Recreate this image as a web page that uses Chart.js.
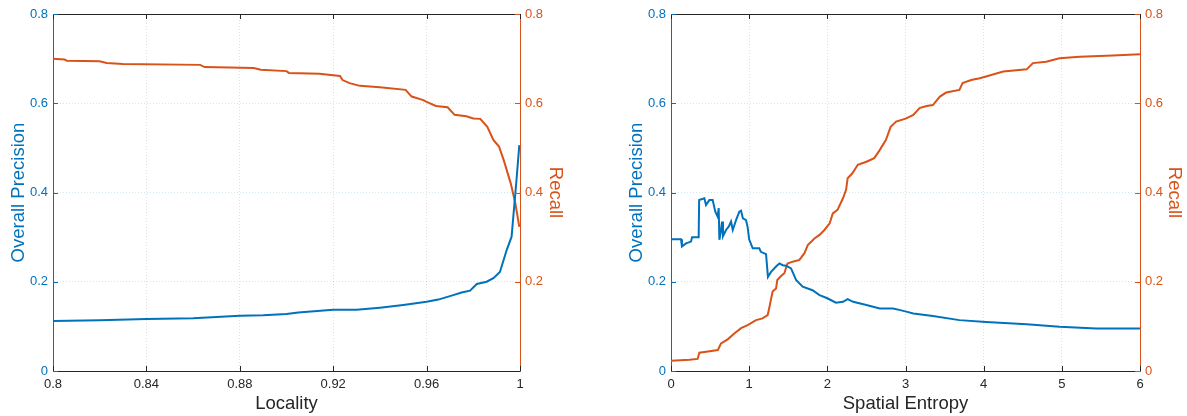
<!DOCTYPE html>
<html>
<head>
<meta charset="utf-8">
<script src="https://cdn.jsdelivr.net/npm/chart.js@4/dist/chart.umd.min.js"></script>
<style>
  body { margin: 0; background: #fff; }
  canvas { position: absolute; top: 0; }
</style>
</head>
<body>
<canvas id="left" width="593" height="416" style="left:0"></canvas>
<canvas id="right" width="594" height="416" style="left:593px"></canvas>
<script>
// Locality chart
var locPrecX = [0.8, 0.82, 0.84, 0.86, 0.87, 0.88, 0.89, 0.9, 0.905, 0.92, 0.93, 0.94, 0.95, 0.96, 0.965, 0.9714,
    0.975, 0.9786, 0.9815, 0.9857, 0.9886, 0.9914, 0.9943, 0.9964, 0.9975, 0.9985, 0.9997]
var locPrecY = [0.112, 0.114, 0.1165, 0.118, 0.121, 0.124, 0.125, 0.128, 0.131, 0.137, 0.137, 0.142, 0.148, 0.155, 0.16, 0.170,
    0.176, 0.18, 0.195, 0.2, 0.208, 0.222, 0.271, 0.301, 0.368, 0.428, 0.506]
var locRecX = [0.8, 0.805, 0.806, 0.82, 0.823, 0.83, 0.863, 0.865, 0.886, 0.889, 0.9, 0.901, 0.914, 0.9229, 0.924, 0.927,
    0.9314, 0.94, 0.951, 0.9536, 0.9586, 0.96, 0.964, 0.969, 0.972, 0.977, 0.98, 0.983, 0.986, 0.9886, 0.991, 0.993,
    0.996, 0.998, 0.9997]
var locRecY = [0.700, 0.698, 0.695, 0.694, 0.690, 0.688, 0.686, 0.681, 0.679, 0.675, 0.672, 0.668, 0.666, 0.661, 0.652, 0.645,
    0.639, 0.636, 0.630, 0.615, 0.607, 0.603, 0.594, 0.591, 0.574, 0.571, 0.566, 0.565, 0.547, 0.518, 0.503, 0.473,
    0.421, 0.376, 0.323]

// Spatial entropy chart
var entPrecX = [0, 0.128, 0.14, 0.192, 0.256, 0.27, 0.354, 0.36, 0.427, 0.448, 0.49, 0.533, 0.567, 0.597, 0.61, 0.619,
    0.64, 0.653, 0.665, 0.704, 0.74, 0.768, 0.79, 0.832, 0.874, 0.896, 0.92, 0.96, 0.98, 1.0, 1.045, 1.13,
    1.15, 1.216, 1.24, 1.28, 1.344, 1.387, 1.43, 1.472, 1.536, 1.6, 1.685, 1.81, 1.9, 2.0, 2.11, 2.2,
    2.26, 2.33, 2.5, 2.67, 2.84, 2.92, 3.01, 3.1, 3.35, 3.69, 4.03, 4.55, 4.97, 5.44, 6]
var entPrecY = [0.295, 0.295, 0.279, 0.286, 0.29, 0.3, 0.3, 0.383, 0.387, 0.372, 0.383, 0.383, 0.357, 0.346, 0.365, 0.294,
    0.316, 0.335, 0.302, 0.316, 0.324, 0.335, 0.316, 0.338, 0.357, 0.359, 0.342, 0.338, 0.323, 0.295, 0.275, 0.275,
    0.267, 0.262, 0.211, 0.222, 0.234, 0.241, 0.237, 0.236, 0.23, 0.204, 0.189, 0.181, 0.170, 0.163, 0.153, 0.155,
    0.161, 0.155, 0.148, 0.140, 0.140, 0.137, 0.133, 0.129, 0.123, 0.114, 0.110, 0.105, 0.099, 0.0955, 0.0955]
var entRecX = [0, 0.235, 0.34, 0.363, 0.45, 0.6, 0.64, 0.725, 0.81, 0.896, 0.98, 1.088, 1.17, 1.237, 1.26, 1.3,
    1.344, 1.36, 1.408, 1.45, 1.49, 1.557, 1.643, 1.707, 1.75, 1.835, 1.9, 1.963, 2.03, 2.07, 2.13, 2.2,
    2.24, 2.26, 2.32, 2.39, 2.5, 2.6, 2.67, 2.75, 2.81, 2.88, 3.01, 3.1, 3.18, 3.27, 3.35, 3.44,
    3.52, 3.69, 3.73, 3.84, 3.95, 4.03, 4.25, 4.55, 4.63, 4.8, 4.97, 5.23, 5.65, 6]
var entRecY = [0.023, 0.025, 0.027, 0.041, 0.043, 0.047, 0.062, 0.071, 0.084, 0.096, 0.103, 0.114, 0.118, 0.125, 0.144, 0.178,
    0.185, 0.204, 0.213, 0.219, 0.241, 0.245, 0.249, 0.264, 0.282, 0.297, 0.305, 0.316, 0.331, 0.353, 0.361, 0.387,
    0.406, 0.432, 0.443, 0.462, 0.469, 0.477, 0.495, 0.518, 0.547, 0.559, 0.566, 0.574, 0.589, 0.594, 0.596, 0.615,
    0.624, 0.630, 0.645, 0.652, 0.656, 0.660, 0.671, 0.676, 0.690, 0.693, 0.701, 0.704, 0.707, 0.710]

const BLUE = '#0072BD'
const ORANGE = '#D95319'
const DARK = '#262626'
const FONT = '"Liberation Sans", Arial, Helvetica, sans-serif'

var zip = (xs, ys) => xs.map((x, i) => ({ x: x, y: ys[i] }))
var fmt = (v) => String(Number(Number(v).toFixed(2)))

// MATLAB style inward tick marks and top box edge
const boxTicks = {
    id: 'boxTicks',
    afterDraw: (chart) => {
        const { ctx, chartArea: a, scales } = chart
        const len = 5
        ctx.save()
        ctx.lineWidth = 1
        ctx.strokeStyle = DARK
        ctx.beginPath()
        ctx.moveTo(a.left, a.top + 0.5)
        ctx.lineTo(a.right, a.top + 0.5)
        ctx.stroke()
        scales.x.ticks.forEach(t => {
            const px = Math.round(scales.x.getPixelForValue(t.value)) + 0.5
            ctx.beginPath()
            ctx.moveTo(px, a.bottom); ctx.lineTo(px, a.bottom - len)
            ctx.moveTo(px, a.top); ctx.lineTo(px, a.top + len)
            ctx.stroke()
        })
        ctx.strokeStyle = BLUE
        scales.y.ticks.forEach(t => {
            const py = Math.round(scales.y.getPixelForValue(t.value)) + 0.5
            ctx.beginPath(); ctx.moveTo(a.left, py); ctx.lineTo(a.left + len, py); ctx.stroke()
        })
        ctx.strokeStyle = ORANGE
        scales.y1.ticks.forEach(t => {
            if (chart.options.hideRightZero && t.value === 0) return
            const py = Math.round(scales.y1.getPixelForValue(t.value)) + 0.5
            ctx.beginPath(); ctx.moveTo(a.right, py); ctx.lineTo(a.right - len, py); ctx.stroke()
        })
        ctx.restore()
    }
}

var makeChart = (id, cfg) => {
    new Chart(document.getElementById(id), {
        type: 'line',
        data: {
            datasets: [
                { data: zip(cfg.precX, cfg.precY), yAxisID: 'y', borderColor: BLUE, borderWidth: 2, pointRadius: 0, tension: 0 },
                { data: zip(cfg.recX, cfg.recY), yAxisID: 'y1', borderColor: ORANGE, borderWidth: 2, pointRadius: 0, tension: 0 }
            ]
        },
        options: {
            responsive: false,
            animation: false,
            hideRightZero: cfg.hideRightZero,
            layout: { padding: { top: 14, bottom: 0, left: 0, right: 0 } },
            plugins: { legend: { display: false }, tooltip: { enabled: false } },
            scales: {
                x: {
                    type: 'linear', min: cfg.xMin, max: cfg.xMax,
                    ticks: { stepSize: cfg.xStep, color: DARK, padding: 6, font: { family: FONT, size: 13 }, callback: fmt },
                    grid: { color: 'rgba(38,38,38,0.15)', drawTicks: false },
                    border: { color: DARK, width: 1, dash: [1, 2] },
                    title: { display: true, text: cfg.xTitle, color: DARK, font: { family: FONT, size: 18.5 }, padding: { top: 0, bottom: 1 } },
                    afterFit: (s) => { s.height = 45 }
                },
                y: {
                    position: 'left', min: 0, max: 0.8,
                    ticks: { stepSize: 0.2, color: BLUE, padding: 5, font: { family: FONT, size: 13 }, callback: fmt },
                    grid: { color: 'rgba(0,114,189,0.18)', drawTicks: false },
                    border: { color: BLUE, width: 1, dash: [1, 2] },
                    title: { display: true, text: 'Overall Precision', color: BLUE, font: { family: FONT, size: 18.5 }, padding: { top: cfg.yPad, bottom: 0 } },
                    afterFit: (s) => { s.width = cfg.yWidth }
                },
                y1: {
                    position: 'right', min: 0, max: 0.8,
                    ticks: {
                        stepSize: 0.2, color: ORANGE, padding: 5, font: { family: FONT, size: 13 },
                        callback: (v) => (cfg.hideRightZero && v === 0) ? '' : fmt(v)
                    },
                    grid: { drawOnChartArea: false, drawTicks: false },
                    border: { color: ORANGE, width: 1 },
                    title: { display: true, text: 'Recall', color: ORANGE, font: { family: FONT, size: 18.5 }, padding: { top: cfg.y1Pad, bottom: 0 } },
                    afterFit: (s) => { s.width = cfg.y1Width }
                }
            }
        },
        plugins: [boxTicks]
    })
}

makeChart('left', {
    precX: locPrecX, precY: locPrecY, recX: locRecX, recY: locRecY,
    xMin: 0.8, xMax: 1, xStep: 0.04, xTitle: 'Locality',
    yWidth: 53, yPad: 7.5, y1Width: 73, y1Pad: 26.4, hideRightZero: true
})

makeChart('right', {
    precX: entPrecX, precY: entPrecY, recX: entRecX, recY: entRecY,
    xMin: 0, xMax: 6, xStep: 1, xTitle: 'Spatial Entropy',
    yWidth: 78, yPad: 33, y1Width: 47, y1Pad: 2, hideRightZero: false
})
</script>
</body>
</html>
